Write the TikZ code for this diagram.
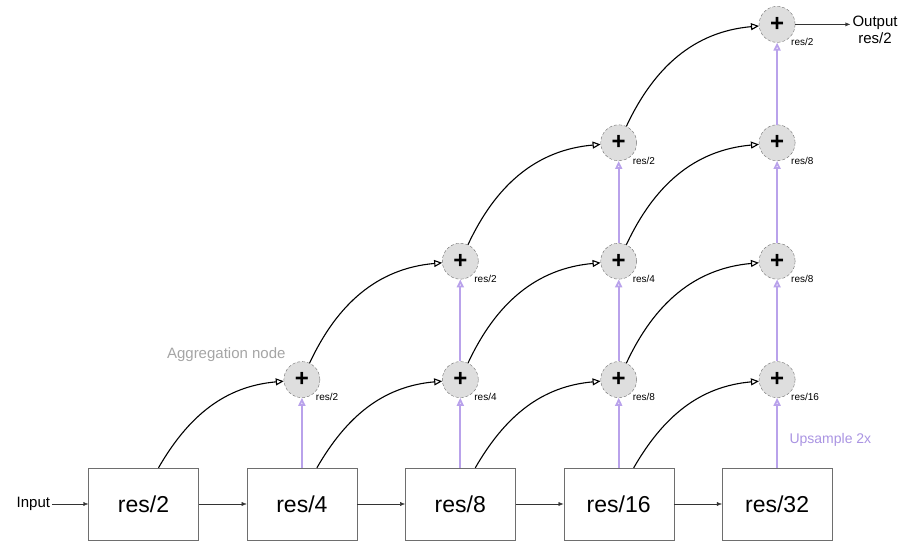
\documentclass[tikz,border=0pt]{standalone}
\usepackage{fontspec}
\setmainfont{Liberation Sans}
\usetikzlibrary{positioning,arrows.meta}
\definecolor{UpPurple}{RGB}{185,162,235}
\definecolor{UpText}{RGB}{170,148,226}
\definecolor{NodeGray}{RGB}{222,222,222}
\definecolor{EdgeGray}{RGB}{110,110,110}
\definecolor{LabelGray}{RGB}{165,165,165}
\tikzset{
  resbox/.style={
    draw=EdgeGray,
    minimum width=110pt,
    minimum height=72pt,
    font=\fontsize{23}{26}\selectfont
  },
  aggnode/.style={
    circle,
    draw=EdgeGray,
    densely dashed,
    fill=NodeGray,
    minimum size=36pt,
    inner sep=0pt,
    font=\fontsize{24}{24}\selectfont\bfseries
  },
  reslabel/.style={font=\fontsize{10}{12}\selectfont,inner sep=1pt},
  iotext/.style={font=\fontsize{15}{17}\selectfont,align=center,inner sep=2pt},
  arrow/.style={-{Latex[length=5pt,width=4pt]},draw=black!80},
  skip/.style={-{Triangle[open,length=8pt,width=7pt]},line width=1.1pt},
  upsample/.style={-{Triangle[open,length=8pt,width=7pt]},draw=UpPurple,line width=1.8pt}
}
\begin{document}
\begin{tikzpicture}[x=1pt,y=1pt]
    \useasboundingbox (0,0) rectangle (910,541);
    % backbone
    \node[resbox] (r2) at (143.5,37) {res/2};
    \node[resbox,right=48pt of r2] (r4) {res/4};
    \node[resbox,right=48pt of r4] (r8) {res/8};
    \node[resbox,right=48pt of r8] (r16) {res/16};
    \node[resbox,right=48pt of r16] (r32) {res/32};
    \node[iotext,left=36pt of r2] (in) {Input};
    \draw[arrow] (in) -- (r2);
    \draw[arrow] (r2) -- (r4);
    \draw[arrow] (r4) -- (r8);
    \draw[arrow] (r8) -- (r16);
    \draw[arrow] (r16) -- (r32);
    % aggregation nodes
    \node[aggnode,above=70pt of r4,label={[reslabel]south east:res/2}] (a1) {+};
    \node[aggnode,above=70pt of r8,label={[reslabel]south east:res/4}] (b1) {+};
    \node[aggnode,above=82pt of b1,label={[reslabel]south east:res/2}] (b2) {+};
    \node[aggnode,above=70pt of r16,label={[reslabel]south east:res/8}] (c1) {+};
    \node[aggnode,above=82pt of c1,label={[reslabel]south east:res/4}] (c2) {+};
    \node[aggnode,above=82pt of c2,label={[reslabel]south east:res/2}] (c3) {+};
    \node[aggnode,above=70pt of r32,label={[reslabel]south east:res/16}] (d1) {+};
    \node[aggnode,above=82pt of d1,label={[reslabel]south east:res/8}] (d2) {+};
    \node[aggnode,above=82pt of d2,label={[reslabel]south east:res/8}] (d3) {+};
    \node[aggnode,above=82pt of d3,label={[reslabel]south east:res/2}] (d4) {+};
    \node[font=\fontsize{15}{17}\selectfont,text=LabelGray,above left=2pt and 0pt of a1] (agg) {Aggregation node};
    \node[font=\fontsize{14}{16}\selectfont,text=UpText,anchor=west] (ups) at (786,101) {Upsample 2x};
    \node[iotext,right=55pt of d4.east,anchor=north west,yshift=11pt] (out) {Output\\res/2};
    % upsampling
    \draw[upsample] (r4) -- (a1);
    \draw[upsample] (r8) -- (b1);
    \draw[upsample] (b1) -- (b2);
    \draw[upsample] (r16) -- (c1);
    \draw[upsample] (c1) -- (c2);
    \draw[upsample] (c2) -- (c3);
    \draw[upsample] (r32) -- (d1);
    \draw[upsample] (d1) -- (d2);
    \draw[upsample] (d2) -- (d3);
    \draw[upsample] (d3) -- (d4);
    % skip connections
    \draw[skip] ([xshift=15pt]r2.north) to[out=60,in=185] (a1);
    \draw[skip] ([xshift=15pt]r4.north) to[out=60,in=185] (b1);
    \draw[skip] ([xshift=15pt]r8.north) to[out=60,in=185] (c1);
    \draw[skip] ([xshift=15pt]r16.north) to[out=60,in=185] (d1);
    \draw[skip] (a1.65) to[out=65,in=185] (b2);
    \draw[skip] (b1.65) to[out=65,in=185] (c2);
    \draw[skip] (b2.65) to[out=65,in=185] (c3);
    \draw[skip] (c1.65) to[out=65,in=185] (d2);
    \draw[skip] (c2.65) to[out=65,in=185] (d3);
    \draw[skip] (c3.65) to[out=65,in=185] (d4);
    \draw[arrow] (d4) -- (d4 -| out.west);
\end{tikzpicture}
\end{document}
